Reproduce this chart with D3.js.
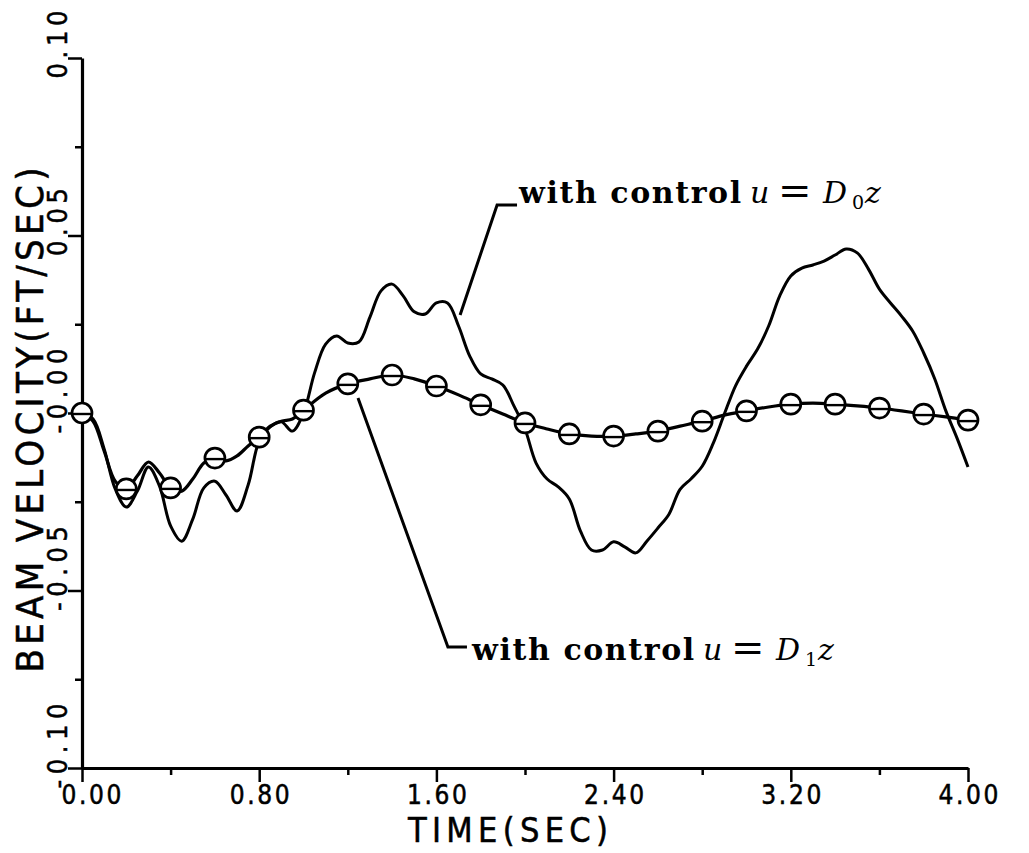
<!DOCTYPE html>
<html>
<head>
<meta charset="utf-8">
<script src="https://cdn.jsdelivr.net/npm/d3@7/dist/d3.min.js"></script>
<style>
  body { margin: 0; background: #fff; }
  svg { display: block; }
  .plot { font-family: "Liberation Sans Narrow", "DejaVu Sans Condensed", "Liberation Sans", sans-serif; fill: #000; stroke: #000; stroke-width: 0.5px; }
  .note { font-family: "DejaVu Serif", serif; font-size: 30px; fill: #000; }
</style>
</head>
<body>
<div id="chart"></div>
<script>
(function () {
  // axis ticks and labels
  const xTicks = [0, 0.8, 1.6, 2.4, 3.2, 4.0];
  const xTickLabels = ["0.00", "0.80", "1.60", "2.40", "3.20", "4.00"];
  const xMinor = [0.4, 1.2, 2.0, 2.8, 3.6];
  const yTicks = [0.10, 0.05, 0, -0.05, -0.10];
  const yTickLabels = ["0.10", "0.05", "-0.00", "-0.05", "-0.10"];
  const yMinor = [0.075, 0.025, -0.025, -0.075];

  // with control u = D0 z, sampled every 0.05 s from t = 0
  const d0Step = 0.05;
  const d0Vel = [
    0.0000, -0.0017, -0.0101, -0.0214, -0.0265, -0.0220, -0.0152, -0.0206, -0.0318, -0.0361,
    -0.0299, -0.0211, -0.0192, -0.0231, -0.0276, -0.0203, -0.0079, -0.0039, -0.0025, -0.0051,
    0.0000, 0.0113, 0.0194, 0.0217, 0.0197, 0.0200, 0.0270, 0.0344, 0.0363, 0.0330,
    0.0285, 0.0279, 0.0310, 0.0310, 0.0245, 0.0161, 0.0110, 0.0096, 0.0079, 0.0020,
    -0.0045, -0.0141, -0.0186, -0.0208, -0.0242, -0.0332, -0.0386, -0.0386, -0.0363, -0.0377,
    -0.0394, -0.0361, -0.0324, -0.0285, -0.0215, -0.0185, -0.0150, -0.0085, -0.0003, 0.0076,
    0.0132, 0.0180, 0.0245, 0.0330, 0.0386, 0.0408, 0.0417, 0.0428, 0.0445, 0.0462,
    0.0451, 0.0406, 0.0349, 0.0310, 0.0273, 0.0231, 0.0169, 0.0096, 0.0006, -0.0070,
    -0.0152
  ];

  // with control u = D1 z
  const d1Time = [
    0, 0.05, 0.1, 0.15, 0.2, 0.25, 0.3, 0.35, 0.4, 0.45, 0.5, 0.55, 0.6, 0.65, 0.7, 0.75, 0.8,
    0.85, 0.9, 0.95, 1.0, 1.1, 1.2, 1.3, 1.4, 1.5, 1.6, 1.7, 1.8, 1.9, 2.0, 2.1, 2.2, 2.3,
    2.4, 2.5, 2.6, 2.7, 2.8, 2.9, 3.0, 3.1, 3.2, 3.3, 3.4, 3.5, 3.6, 3.7, 3.8, 3.9, 4.0
  ];
  const d1Vel = [
    0.0000, -0.0023, -0.0107, -0.0192, -0.0214, -0.0177, -0.0138, -0.0169, -0.0211, -0.0220,
    -0.0186, -0.0141, -0.0127, -0.0135, -0.0121, -0.0093, -0.0068, -0.0037, -0.0023, -0.0017,
    0.0008, 0.0056, 0.0082, 0.0096, 0.0107, 0.0096, 0.0076, 0.0051, 0.0023, -0.0003,
    -0.0028, -0.0045, -0.0059, -0.0065, -0.0065, -0.0059, -0.0051, -0.0037, -0.0023, -0.0006,
    0.0006, 0.0017, 0.0025, 0.0028, 0.0025, 0.0020, 0.0014, 0.0006, -0.0003, -0.0011,
    -0.0020
  ];
  // markers every 0.2 s
  const markerTime = [0, 0.2, 0.4, 0.6, 0.8, 1.0, 1.2, 1.4, 1.6, 1.8, 2.0, 2.2, 2.4, 2.6, 2.8, 3.0, 3.2, 3.4, 3.6, 3.8, 4.0];

  // annotation leaders and label anchors, in data units
  const d0Leader = [[1.707, 0.0276], [1.874, 0.0586], [1.964, 0.0586]];
  const d1Leader = [[1.246, 0.0042], [1.652, -0.0659], [1.738, -0.0659]];
  const d0Note = [1.964, 0.0592];
  const d1Note = [1.752, -0.0696];

  const W = 1029, H = 853;
  const svg = d3.select("#chart").append("svg")
    .attr("width", W).attr("height", H);

  const x = d3.scaleLinear().domain([0, 4]).range([82, 968]);
  const y = d3.scaleLinear().domain([-0.1, 0.1]).range([768, 58]);

  const d0 = d0Vel.map((v, i) => ({ t: i * d0Step, v }));
  const d1 = d1Time.map((t, i) => ({ t, v: d1Vel[i] }));

  const line = d3.line()
    .x(d => x(d.t)).y(d => y(d.v))
    .curve(d3.curveCatmullRom.alpha(0.5));

  // minor ticks
  svg.append("g")
    .attr("transform", "translate(0,768)")
    .call(d3.axisBottom(x).tickValues(xMinor).tickSize(7).tickSizeOuter(0).tickFormat(""))
    .call(g => g.select(".domain").remove())
    .selectAll("line").attr("stroke-width", 2.5);
  svg.append("g")
    .attr("transform", "translate(82,0)")
    .call(d3.axisLeft(y).tickValues(yMinor).tickSize(7).tickSizeOuter(0).tickFormat(""))
    .call(g => g.select(".domain").remove())
    .selectAll("line").attr("stroke-width", 2.5);

  // x axis
  const gx = svg.append("g")
    .attr("transform", "translate(0,768)")
    .call(d3.axisBottom(x).tickValues(xTicks).tickSize(14).tickSizeOuter(0)
      .tickFormat((d, i) => xTickLabels[i]));
  gx.select(".domain").attr("stroke-width", 3.2);
  gx.selectAll(".tick line").attr("stroke-width", 2.5);
  gx.selectAll(".tick text")
    .attr("class", "plot")
    .attr("y", 36).attr("dy", 0)
    .attr("x", (d, i) => i === 0 ? 9 : 0)
    .attr("font-size", 26)
    .attr("textLength", 60)
    .attr("lengthAdjust", "spacing");

  // y axis
  const gy = svg.append("g")
    .attr("transform", "translate(82,0)")
    .call(d3.axisLeft(y).tickValues(yTicks).tickSize(14).tickSizeOuter(0)
      .tickFormat((d, i) => yTickLabels[i]));
  gy.select(".domain").attr("stroke-width", 3.2);
  gy.selectAll(".tick line").attr("stroke-width", 2.5);
  gy.selectAll(".tick text")
    .attr("class", "plot")
    .attr("x", 0).attr("dy", 0)
    .attr("text-anchor", "start")
    .attr("transform", "translate(-15,20) rotate(-90)")
    .attr("font-size", 27)
    .attr("textLength", (d, i) => yTickLabels[i].length * 17)
    .attr("lengthAdjust", "spacing");
  svg.selectAll(".tick text").attr("fill", "#000");

  // axis titles
  svg.append("text")
    .attr("class", "plot")
    .attr("x", 508).attr("y", 842)
    .attr("text-anchor", "middle")
    .attr("font-size", 34)
    .attr("textLength", 200).attr("lengthAdjust", "spacing")
    .text("TIME(SEC)");

  svg.append("text")
    .attr("class", "plot")
    .attr("transform", "translate(43,420) rotate(-90)")
    .attr("text-anchor", "middle")
    .attr("font-size", 38)
    .attr("textLength", 505).attr("lengthAdjust", "spacing")
    .text("BEAM VELOCITY(FT/SEC)");

  // D0 response
  svg.append("path")
    .datum(d0)
    .attr("fill", "none").attr("stroke", "#000")
    .attr("stroke-width", 3).attr("stroke-linejoin", "round")
    .attr("d", line);

  // D1 response
  svg.append("path")
    .datum(d1)
    .attr("fill", "none").attr("stroke", "#000")
    .attr("stroke-width", 3.2).attr("stroke-linejoin", "round")
    .attr("d", line);

  const marks = svg.append("g").selectAll("g")
    .data(markerTime.map(t => d1.find(d => Math.abs(d.t - t) < 1e-6)))
    .enter().append("g")
    .attr("transform", d => `translate(${x(d.t)},${y(d.v)})`);
  marks.append("circle")
    .attr("r", 10)
    .attr("fill", "#fff").attr("stroke", "#000").attr("stroke-width", 2.7);
  marks.append("line")
    .attr("x1", -10).attr("x2", 10).attr("y1", 1).attr("y2", 1)
    .attr("stroke", "#000").attr("stroke-width", 2.4);

  // annotations
  const leader = d3.line().x(d => x(d[0])).y(d => y(d[1]));
  [d0Leader, d1Leader].forEach(pts => {
    svg.append("path")
      .attr("d", leader(pts))
      .attr("fill", "none").attr("stroke", "#000")
      .attr("stroke-width", 3).attr("stroke-linejoin", "miter");
  });

  function note(pos, sub) {
    const x0 = x(pos[0]) + 2, y0 = y(pos[1]);
    const txt = svg.append("text")
      .attr("class", "note")
      .attr("x", x0).attr("y", y0);
    txt.append("tspan").attr("font-weight", "bold")
      .attr("letter-spacing", 1.6).text("with control");
    txt.append("tspan").attr("x", x0 + 231).attr("font-style", "italic").text("u");
    txt.append("tspan").attr("x", x0 + 259).attr("font-size", 40).attr("dy", 1).text("=");
    txt.append("tspan").attr("x", x0 + 304).attr("font-style", "italic").attr("dy", -1).text("D");
    txt.append("tspan").attr("x", x0 + 333).attr("font-size", 19).attr("dy", 6).text(sub);
    txt.append("tspan").attr("x", x0 + 346).attr("font-style", "italic").attr("dy", -6).text("z");
  }
  note(d0Note, "0");
  note(d1Note, "1");
})();
</script>
</body>
</html>
